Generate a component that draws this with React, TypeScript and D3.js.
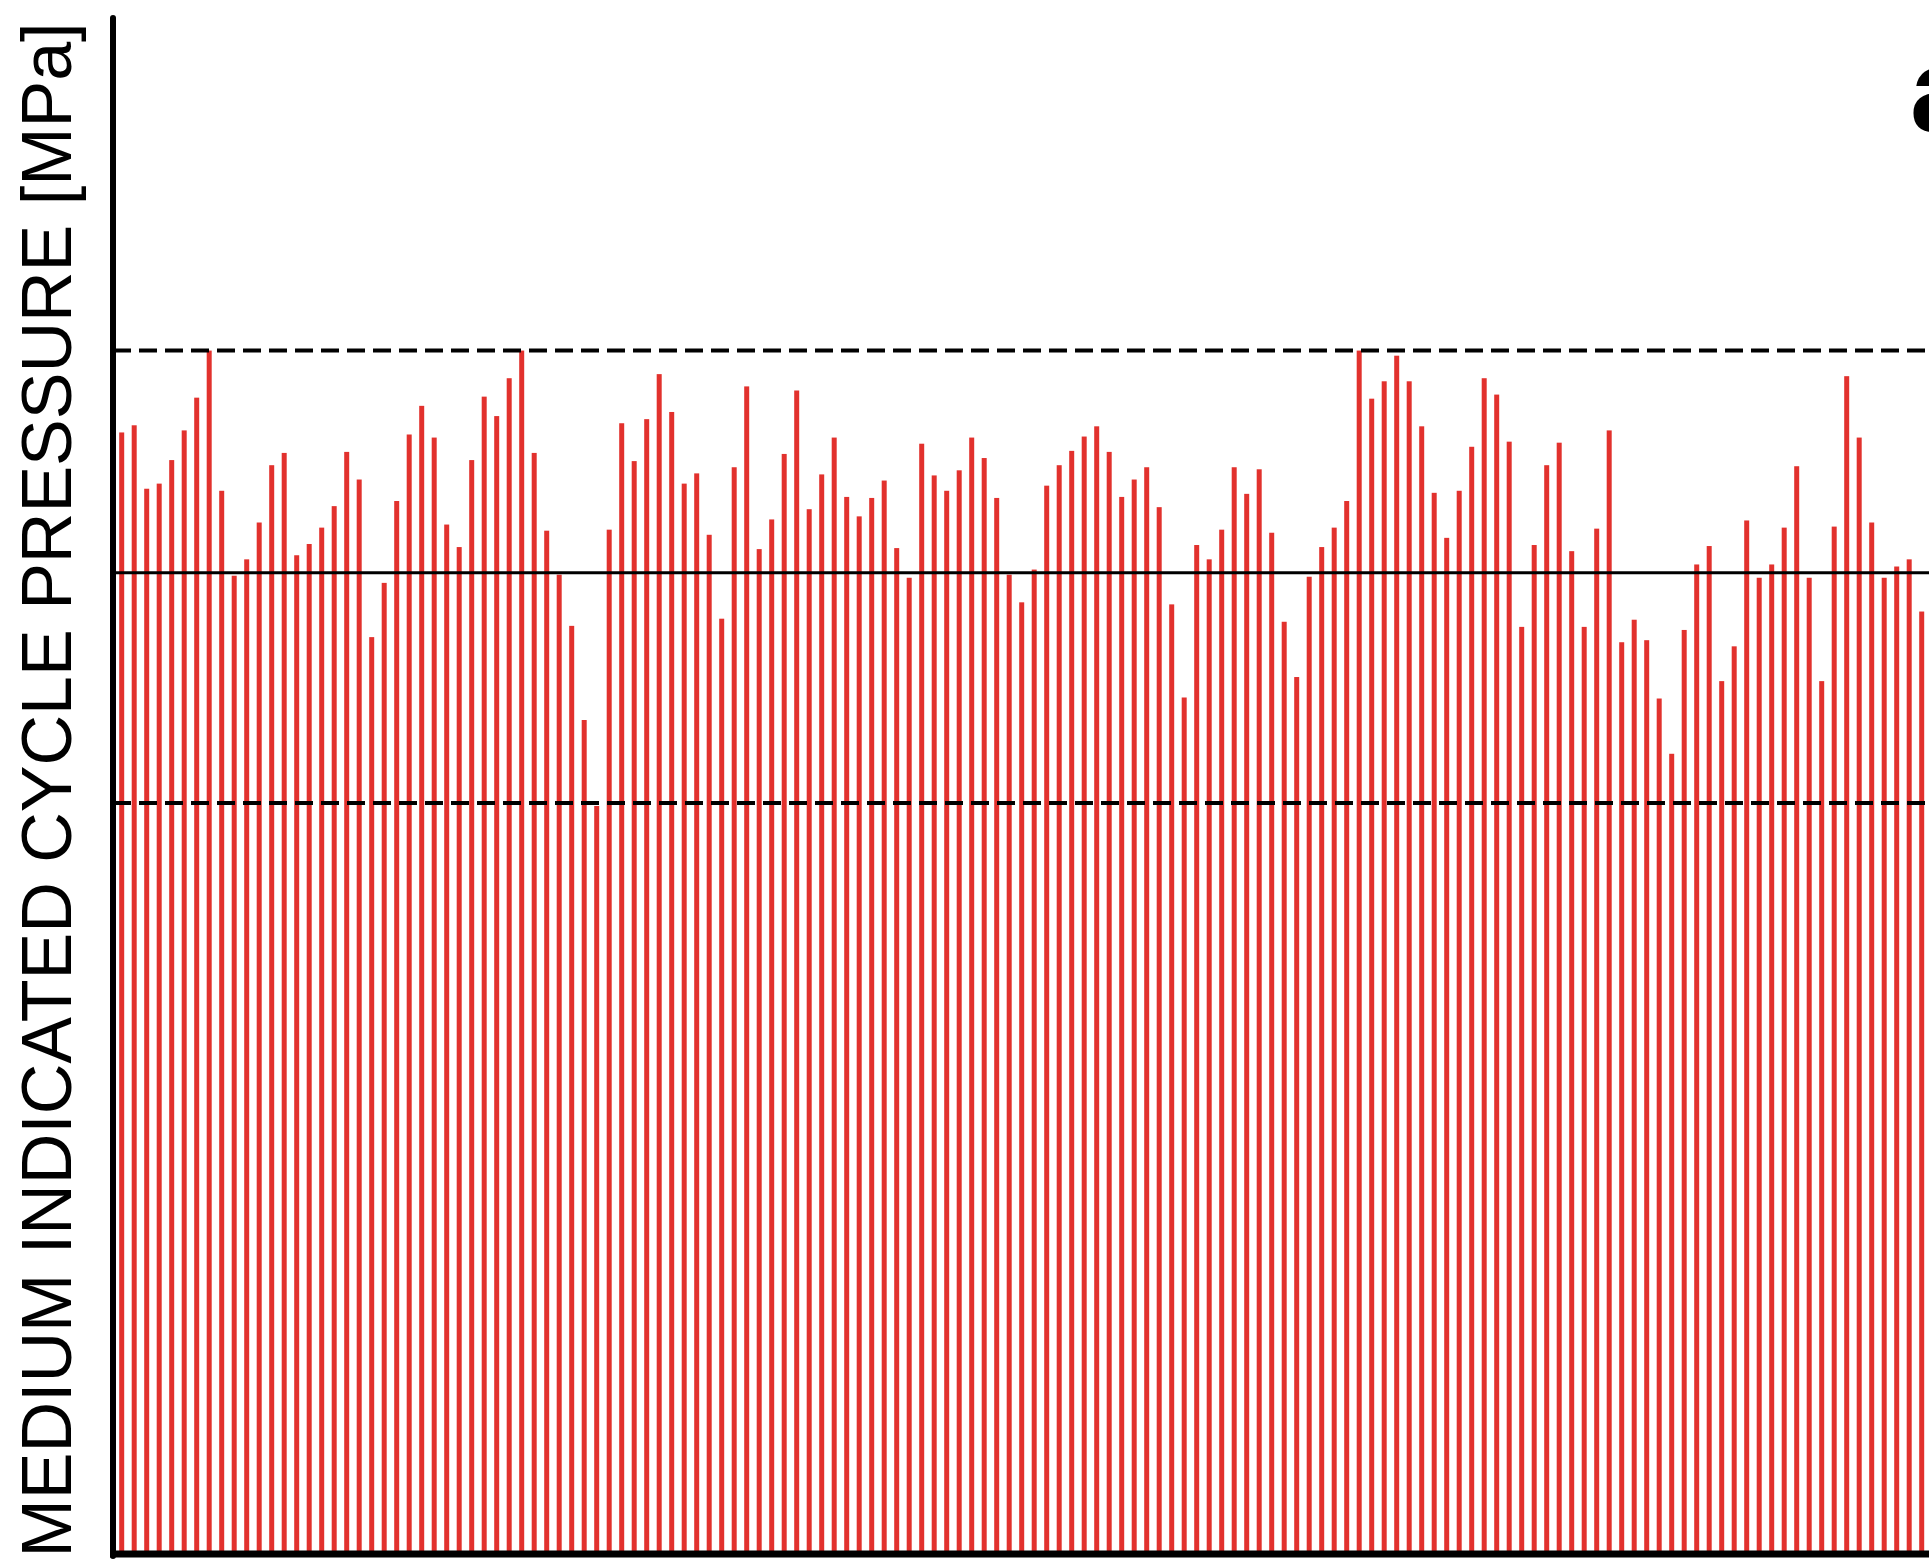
import * as d3 from "d3";

// cycle-by-cycle medium indicated pressure [MPa]
const pressures = [
  1.095, 1.102, 1.04, 1.045, 1.068, 1.097, 1.129, 1.175, 1.038, 0.955,
  0.971, 1.007, 1.063, 1.075, 0.975, 0.986, 1.002, 1.023, 1.076, 1.049,
  0.895, 0.948, 1.028, 1.093, 1.121, 1.09, 1.005, 0.983, 1.068, 1.13,
  1.111, 1.148, 1.175, 1.075, 0.999, 0.956, 0.906, 0.814, 0.73, 1.0,
  1.104, 1.067, 1.108, 1.152, 1.115, 1.045, 1.055, 0.995, 0.913, 1.061,
  1.14, 0.981, 1.01, 1.074, 1.136, 1.02, 1.054, 1.09, 1.032, 1.013,
  1.031, 1.048, 0.982, 0.953, 1.084, 1.053, 1.038, 1.058, 1.09, 1.07,
  1.031, 0.956, 0.929, 0.961, 1.043, 1.063, 1.077, 1.091, 1.101, 1.076,
  1.032, 1.049, 1.061, 1.022, 0.927, 0.836, 0.985, 0.971, 1.0, 1.061,
  1.035, 1.059, 0.997, 0.91, 0.856, 0.954, 0.983, 1.002, 1.028, 1.175,
  1.128, 1.145, 1.17, 1.145, 1.101, 1.036, 0.992, 1.038, 1.081, 1.148,
  1.132, 1.086, 0.905, 0.985, 1.063, 1.085, 0.979, 0.905, 1.001, 1.097,
  0.89, 0.912, 0.892, 0.835, 0.781, 0.902, 0.966, 0.984, 0.852, 0.886,
  1.009, 0.953, 0.966, 1.002, 1.062, 0.953, 0.852, 1.003, 1.15, 1.09,
  1.007, 0.953, 0.964, 0.971, 0.92,
];
const cycles = pressures.map((_, i) => i + 1);

const meanPressure = 0.958;
const upperLimit = 1.175;
const lowerLimit = 0.733;
const yDomain = [0, 1.5];

const yLabel = "MEDIUM INDICATED CYCLE PRESSURE [MPa]";
const panelLabel = "a)";

const width = 1929;
const height = 1560;

export default function App() {
  const margin = { top: 18, left: 113, bottom: 1553 };

  const x = d3
    .scaleBand<number>()
    .domain(cycles)
    .range([margin.left + 2.45, margin.left + 2.45 + 12.5 * cycles.length])
    .paddingInner(0.6)
    .paddingOuter(0.3);

  const y = d3.scaleLinear().domain(yDomain).range([margin.bottom, margin.top]);

  const font = "'Liberation Sans', Arial, sans-serif";

  return (
    <svg
      width={width}
      height={height}
      style={{ position: "absolute", left: 0, top: 0, background: "white" }}
    >
      {/* bars */}
      {pressures.map((p, i) => (
        <rect
          key={i}
          x={x(cycles[i])}
          y={y(p)}
          width={x.bandwidth()}
          height={y(0) - y(p)}
          fill="#e2312d"
        />
      ))}

      {/* mean and limit lines */}
      <line
        x1={margin.left}
        x2={width}
        y1={y(meanPressure)}
        y2={y(meanPressure)}
        stroke="black"
        strokeWidth={3}
      />
      {[upperLimit, lowerLimit].map((v) => (
        <line
          key={v}
          x1={margin.left}
          x2={width}
          y1={y(v)}
          y2={y(v)}
          stroke="black"
          strokeWidth={4}
          strokeDasharray="18 8"
        />
      ))}

      {/* axes */}
      <line
        x1={margin.left}
        x2={margin.left}
        y1={margin.top}
        y2={margin.bottom + 3}
        stroke="black"
        strokeWidth={6}
        strokeLinecap="round"
      />
      <line
        x1={margin.left - 3}
        x2={width}
        y1={margin.bottom + 1}
        y2={margin.bottom + 1}
        stroke="black"
        strokeWidth={7}
      />

      {/* y label */}
      <text
        transform={`translate(71,${(28 + 1552) / 2}) rotate(-90)`}
        textAnchor="middle"
        fontFamily={font}
        fontSize={70}
        fill="black"
      >
        {yLabel}
      </text>

      {/* panel label, cut by the right edge as in the source */}
      <text x={1910} y={131} fontFamily={font} fontWeight="bold" fontSize={118} fill="black">
        {panelLabel}
      </text>
    </svg>
  );
}
